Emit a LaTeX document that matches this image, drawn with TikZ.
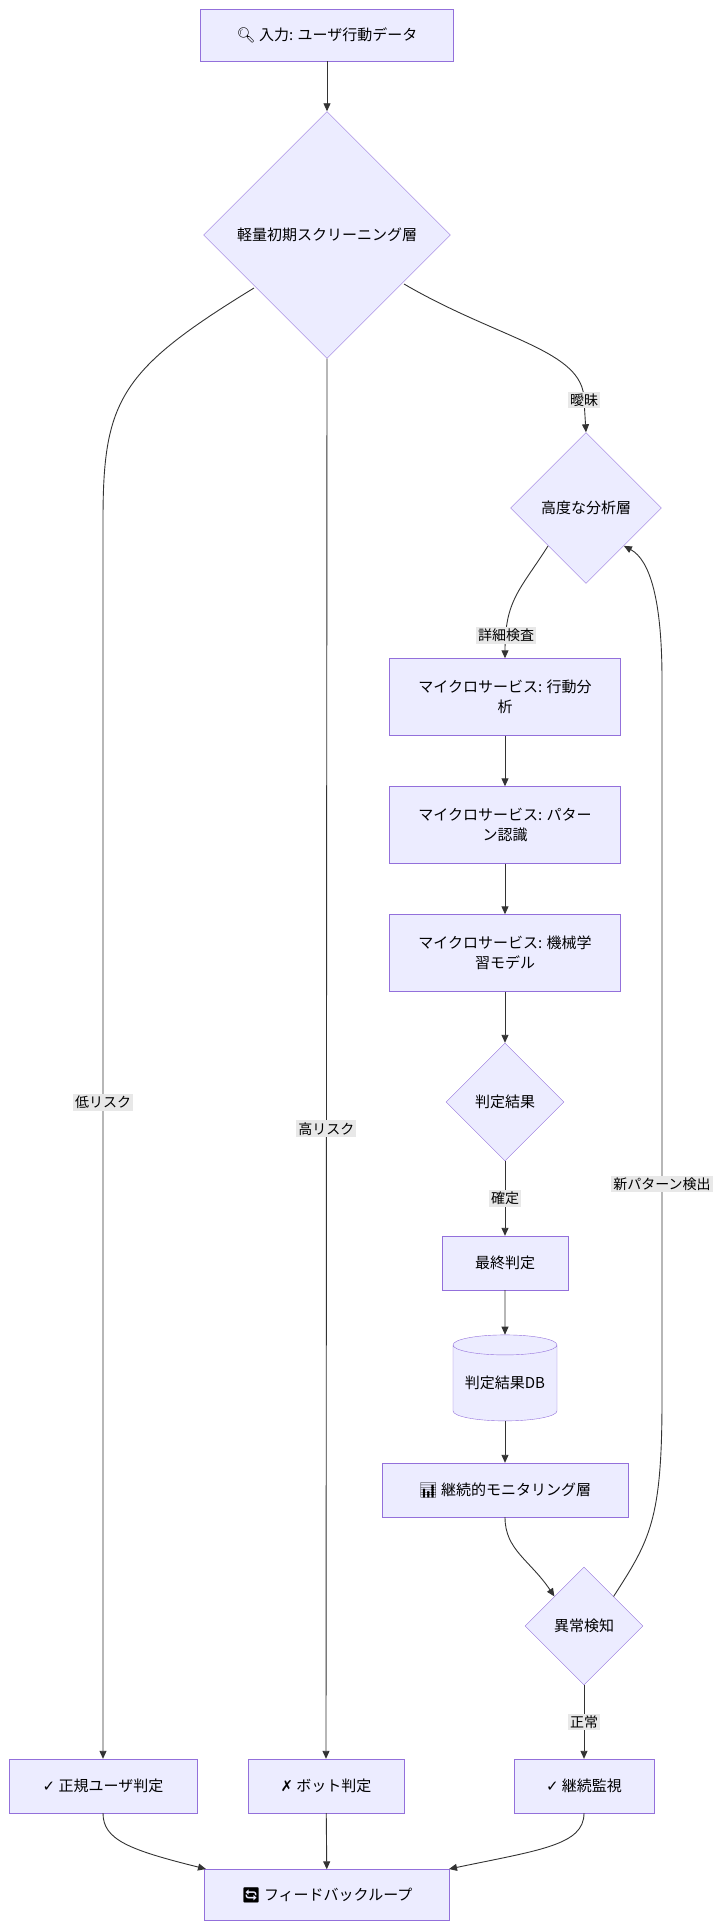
\documentclass[tikz,border=0pt]{standalone}
\usepackage{fontspec}
\setmainfont{Noto Sans CJK JP}
\newfontfamily\emojifont{Noto Emoji}
\newfontfamily\symfont{DejaVu Sans}
\usetikzlibrary{arrows.meta,shapes.geometric}
\definecolor{nodefill}{HTML}{ECECFF}
\definecolor{nodeline}{HTML}{9370DB}
\definecolor{edgeline}{HTML}{333333}
\definecolor{labelbg}{HTML}{E8E8E8}
\tikzset{%
  tipA/.tip={Triangle[length=8pt,width=7pt]},
  box/.style={draw=nodeline,fill=nodefill,minimum height=#1,inner sep=0pt,align=center},
  box/.default=54pt,
  decision/.style={diamond,draw=nodeline,fill=nodefill,aspect=1,inner sep=0pt,minimum size=#1},
  link/.style={draw=edgeline,line width=0.9pt,-tipA},
  tag/.style={fill=labelbg,inner sep=2pt,font=\fontsize{14}{16}\selectfont}
}
\begin{document}
\begin{tikzpicture}[x=1pt,y=-1pt,font=\fontsize{15}{20}\selectfont]
    \useasboundingbox (0,0) rectangle (725,1921);
    % upper part
    \node[box,minimum width=253pt,minimum height=52pt] (input) at (327,35) {{\emojifont 🔍} 入力: ユーザ行動データ};
    \node[decision=247pt] (screen) at (327,235) {軽量初期スクリーニング層};
    \node[decision=151pt] (deep) at (586,508) {高度な分析層};
    \node[box=77pt,minimum width=231pt] (micA) at (505,697) {マイクロサービス: 行動分\\析};
    \node[box=77pt,minimum width=231pt] (micB) at (505,825) {マイクロサービス: パター\\ン認識};
    \node[box=77pt,minimum width=231pt] (micC) at (505,953) {マイクロサービス: 機械学\\習モデル};
    \node[decision=118pt] (judge) at (505,1102) {判定結果};
    \node[box,minimum width=126pt] (final) at (505,1263) {最終判定};
    \node[cylinder,shape border rotate=90,aspect=0.25,draw=nodeline,fill=nodefill,minimum width=104pt,minimum height=86pt,inner sep=0pt] (db) at (505,1383) {判定結果DB};
    \node[box,minimum width=246pt] (watch) at (505,1490) {{\emojifont 📊} 継続的モニタリング層};
    \node[decision=118pt] (alarm) at (584,1626) {異常検知};
    % bottom row
    \node[box,minimum width=188pt] (human) at (103,1786) {{\symfont ✓} 正規ユーザ判定};
    \node[box,minimum width=156pt] (bot) at (326,1786) {{\symfont ✗} ボット判定};
    \node[box,minimum width=140pt] (keep) at (584,1786) {{\symfont ✓} 継続監視};
    \node[box=51pt,minimum width=245pt] (loop) at (327,1895) {{\emojifont 🔄} フィードバックループ};
    % connectors
    \draw[link] (input) -- (screen);
    \draw[link] (254,288) .. controls (120,370) and (103,400) .. (103,520) -- node[tag,pos=0.47]{低リスク} (human.north);
    \draw[link] (screen.south) -- node[tag,pos=0.55]{高リスク} (bot.north);
    \draw[link] (404,284) .. controls (500,340) and (584,350) .. node[tag,pos=1]{曖昧} (584,400) -- (deep.north);
    \draw[link] (548,546) .. controls (520,590) and (505,600) .. node[tag,pos=0.85]{詳細検査} (micA.north);
    \draw[link] (micA) -- (micB);
    \draw[link] (micB) -- (micC);
    \draw[link] (micC) -- (judge);
    \draw[link] (judge) -- node[tag]{確定} (final);
    \draw[link] (final) -- (db);
    \draw[link] (db) -- (watch);
    \draw[link] (watch.south) .. controls (505,1550) and (530,1560) .. (alarm.north west);
    \draw[link] (alarm) -- node[tag]{正常} (keep);
    \draw[link] (alarm.north east) .. controls (650,1540) and (662,1520) .. (662,1400) -- node[tag,pos=0.3]{新パターン検出} (662,680) .. controls (662,600) and (650,560) .. (deep.south east);
    \draw[link] (human.south) .. controls (103,1840) and (130,1850) .. (206,1869);
    \draw[link] (bot) -- (loop);
    \draw[link] (keep.south) .. controls (584,1845) and (540,1850) .. (449,1869);
\end{tikzpicture}
\end{document}
